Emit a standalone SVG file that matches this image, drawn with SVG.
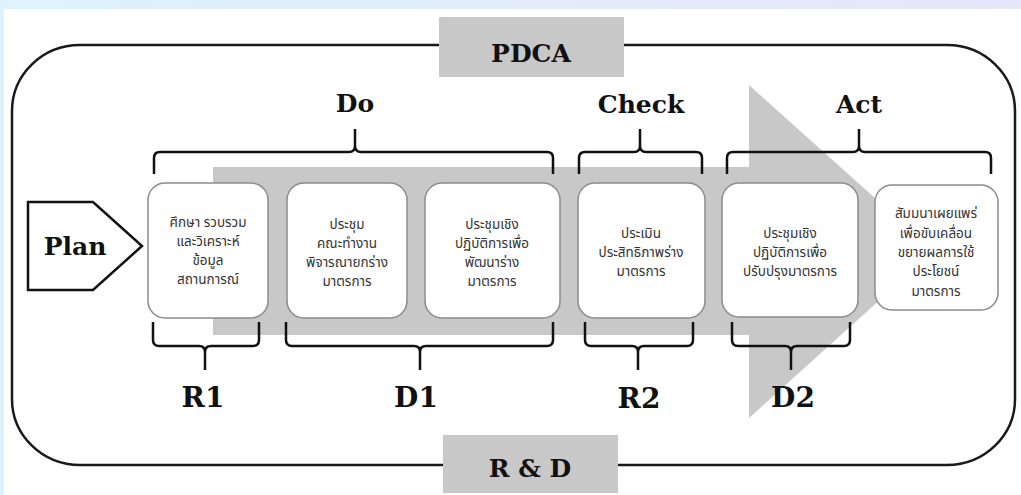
<svg xmlns="http://www.w3.org/2000/svg" width="1021" height="495" viewBox="0 0 1021 495">
  <defs>
    <linearGradient id="band" x1="0" y1="0" x2="1" y2="0">
      <stop offset="0" stop-color="#ddf3fb"/>
      <stop offset="1" stop-color="#e6e5fa"/>
    </linearGradient>
  </defs>
  <style>
    .lbl { font-family: "DejaVu Serif", "Liberation Serif", serif; font-weight: bold; fill: #111; text-anchor: middle; }
    .top { font-size: 25px; }
    .bot { font-size: 28px; }
    .box { fill: #ffffff; stroke: #8c8c8c; stroke-width: 1.5; }
    .th { font-family: "Noto Sans Thai", "Noto Sans Thai UI", "Loma", "Garuda", "Tlwg Typo", "Noto Sans", sans-serif; font-size: 13.5px; fill: #333333; text-anchor: middle; }
    .brace { fill: none; stroke: #111; stroke-width: 2.5; stroke-linejoin: round; }
    .gray { fill: #c8c8c8; }
  </style>

  <!-- background -->
  <rect x="0" y="0" width="1021" height="495" fill="#ffffff"/>
  <rect x="0" y="0" width="1021" height="9" fill="url(#band)"/>
  <rect x="0" y="0" width="4" height="495" fill="#ddf3fb"/>

  <!-- outer frame -->
  <rect x="12" y="45" width="1003" height="420" rx="68" ry="66" fill="none" stroke="#1a1a1a" stroke-width="2.5"/>

  <!-- big gray arrow -->
  <polygon class="gray" points="213,167 749,167 749,85 934,251 749,418 749,335 213,335"/>

  <!-- PDCA / R&D tabs -->
  <g id="pdca">
    <rect class="gray" x="439" y="17" width="185" height="60"/>
    <text class="lbl top" x="531" y="62" font-size="26">PDCA</text>
  </g>
  <g id="rnd">
    <rect class="gray" x="443" y="435" width="175" height="58"/>
    <text class="lbl top" x="530" y="477" font-size="26">R &amp; D</text>
  </g>

  <!-- Plan -->
  <g id="plan">
    <polygon points="28,202 93,202 142,246 93,290 28,290" fill="#ffffff" stroke="#111" stroke-width="2.5" stroke-linejoin="miter"/>
    <text class="lbl" x="75" y="255" font-size="25">Plan</text>
  </g>

  <!-- phase labels -->
  <g id="label-do"><text class="lbl top" x="355" y="112">Do</text></g>
  <g id="label-check"><text class="lbl top" x="641" y="113">Check</text></g>
  <g id="label-act"><text class="lbl top" x="859" y="113">Act</text></g>
  <g id="label-r1"><text class="lbl bot" x="203" y="407">R1</text></g>
  <g id="label-d1"><text class="lbl bot" x="416" y="407">D1</text></g>
  <g id="label-r2"><text class="lbl bot" x="639" y="408">R2</text></g>
  <g id="label-d2"><text class="lbl bot" x="793" y="407">D2</text></g>

  <!-- connectors (braces) -->
  <g id="connectors">
    <path class="brace" d="M154,174 L154,158 Q154,152 160,152 L349,152 Q355,152 355,146 L355,129 M355,146 Q355,152 361,152 L547,152 Q553,152 553,158 L553,174"/>
    <path class="brace" d="M579,174 L579,158 Q579,152 585,152 L634,152 Q640,152 640,146 L640,129 M640,146 Q640,152 646,152 L696,152 Q702,152 702,158 L702,174"/>
    <path class="brace" d="M727,174 L727,158 Q727,152 733,152 L853,152 Q859,152 859,146 L859,129 M859,146 Q859,152 865,152 L985,152 Q991,152 991,158 L991,174"/>

    <path class="brace" d="M153,322 L153,340 Q153,346 159,346 L199,346 Q205,346 205,352 L205,370 M205,352 Q205,346 211,346 L253,346 Q259,346 259,340 L259,322"/>
    <path class="brace" d="M286,322 L286,340 Q286,346 292,346 L414,346 Q420,346 420,352 L420,370 M420,352 Q420,346 426,346 L547,346 Q553,346 553,340 L553,322"/>
    <path class="brace" d="M585,322 L585,340 Q585,346 591,346 L632,346 Q638,346 638,352 L638,370 M638,352 Q638,346 644,346 L687,346 Q693,346 693,340 L693,322"/>
    <path class="brace" d="M732,322 L732,340 Q732,346 738,346 L785,346 Q791,346 791,352 L791,370 M791,352 Q791,346 797,346 L844,346 Q850,346 850,340 L850,322"/>
  </g>

  <!-- step boxes -->
  <g id="step1">
    <rect class="box" x="148" y="183" width="120" height="135" rx="17"/>
    <text class="th"><tspan x="208" y="227">ศึกษา รวบรวม</tspan><tspan x="208" y="246">และวิเคราะห์</tspan><tspan x="208" y="265">ข้อมูล</tspan><tspan x="208" y="284">สถานการณ์</tspan></text>
  </g>
  <g id="step2">
    <rect class="box" x="287" y="183" width="120" height="135" rx="17"/>
    <text class="th"><tspan x="347" y="229">ประชุม</tspan><tspan x="347" y="248">คณะทำงาน</tspan><tspan x="347" y="267">พิจารณายกร่าง</tspan><tspan x="347" y="286">มาตรการ</tspan></text>
  </g>
  <g id="step3">
    <rect class="box" x="425" y="183" width="135" height="135" rx="17"/>
    <text class="th"><tspan x="492" y="229">ประชุมเชิง</tspan><tspan x="492" y="248">ปฏิบัติการเพื่อ</tspan><tspan x="492" y="267">พัฒนาร่าง</tspan><tspan x="492" y="286">มาตรการ</tspan></text>
  </g>
  <g id="step4">
    <rect class="box" x="578" y="183" width="127" height="135" rx="17"/>
    <text class="th"><tspan x="641" y="238">ประเมิน</tspan><tspan x="641" y="257">ประสิทธิภาพร่าง</tspan><tspan x="641" y="276">มาตรการ</tspan></text>
  </g>
  <g id="step5">
    <rect class="box" x="722" y="183" width="136" height="134" rx="17"/>
    <text class="th"><tspan x="790" y="238">ประชุมเชิง</tspan><tspan x="790" y="257">ปฏิบัติการเพื่อ</tspan><tspan x="790" y="276">ปรับปรุงมาตรการ</tspan></text>
  </g>
  <g id="step6">
    <rect class="box" x="875" y="185" width="123" height="125" rx="17"/>
    <text class="th"><tspan x="936" y="218">สัมมนาเผยแพร่</tspan><tspan x="936" y="238">เพื่อขับเคลื่อน</tspan><tspan x="936" y="257">ขยายผลการใช้</tspan><tspan x="936" y="276">ประโยชน์</tspan><tspan x="936" y="296">มาตรการ</tspan></text>
  </g>
</svg>
